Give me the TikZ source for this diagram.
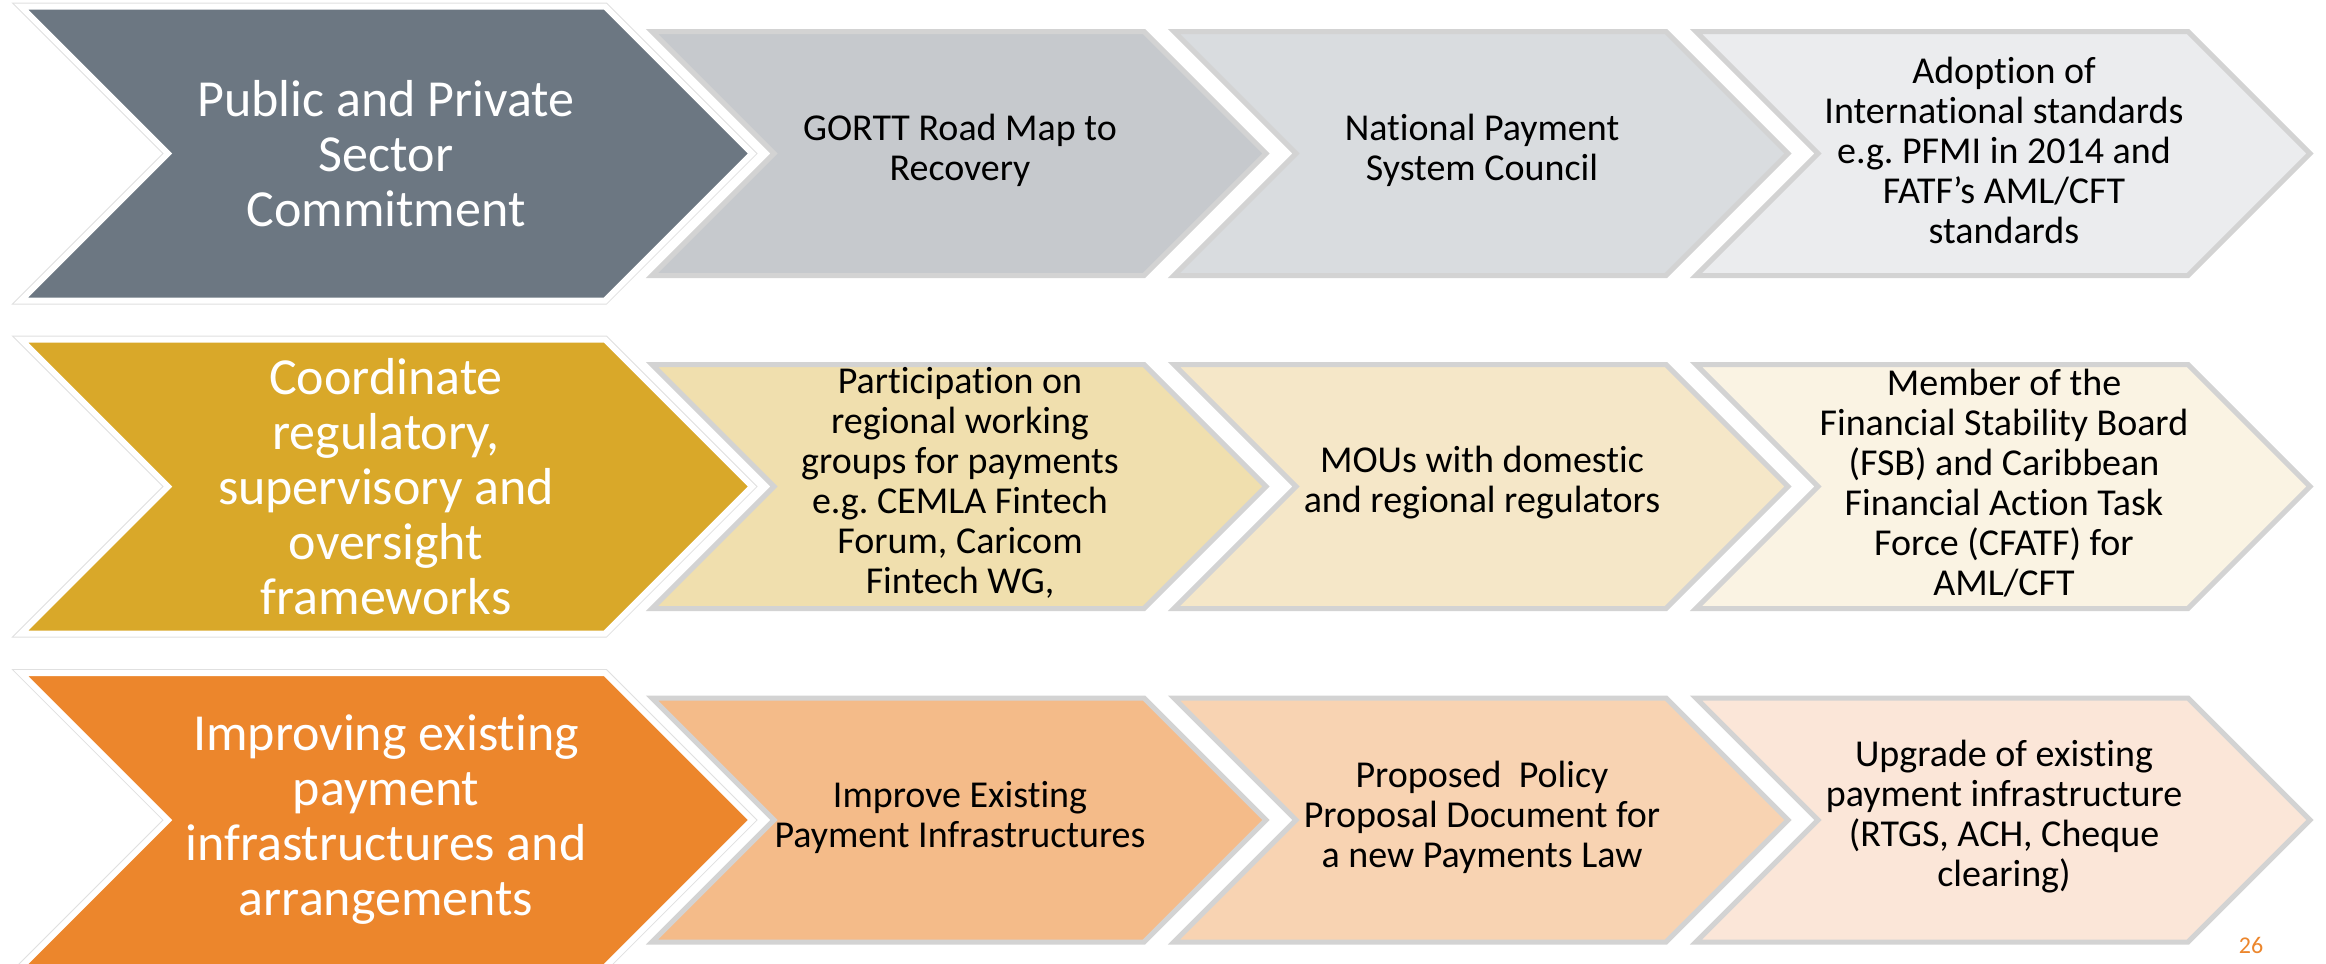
\documentclass[tikz,border=0pt]{standalone}
\usepackage{fontspec}
\setmainfont{Carlito}[Ligatures={NoCommon}]
\frenchspacing
\definecolor{slate}{HTML}{6C7782}
\definecolor{gA}{HTML}{C6C9CD}
\definecolor{gB}{HTML}{D9DCDF}
\definecolor{gC}{HTML}{EBECEE}
\definecolor{gold}{HTML}{D9A829}
\definecolor{yA}{HTML}{F0DFAE}
\definecolor{yB}{HTML}{F5E7C8}
\definecolor{yC}{HTML}{FAF3E3}
\definecolor{orng}{HTML}{EC862C}
\definecolor{oA}{HTML}{F4BB89}
\definecolor{oB}{HTML}{F8D3B2}
\definecolor{oC}{HTML}{FBE6D8}
\definecolor{rim}{HTML}{D3D3D3}
\newcommand{\chevpath}[5]{% #1 style, #2 left x, #3 centre y, #4 half height, #5 flat length
  \path[#1] (#2,#3-#4) -- ++(#5,0) -- ++(#4,#4) -- ++(-#4,#4) -- ++(-#5,0) -- ++(#4,-#4) -- cycle;}
\tikzset{
  bigchev/.style={fill=#1, draw=white, line width=3pt, preaction={draw=rim!70, line width=4pt}},
  smallchev/.style={fill=#1, draw=rim, line width=2.5pt},
  bigtext/.style={text=white, align=center, font=\fontsize{26}{27.5}\selectfont, inner sep=0pt},
  smalltext/.style={text=black, align=center, font=\fontsize{19}{20}\selectfont, inner sep=0pt},
}
\begin{document}
\begin{tikzpicture}[x=0.5pt,y=-0.5pt]
\useasboundingbox (0,0) rectangle (2326,964);
\fill[white] (0,0) rectangle (2326,964);

% Row 1
\chevpath{bigchev=slate}{21}{153.5}{147}{584}
\chevpath{smallchev=gA}{652}{153.5}{122}{492}
\chevpath{smallchev=gB}{1174}{153.5}{122}{492}
\chevpath{smallchev=gC}{1696}{153.5}{122}{492}
\node[bigtext] (r1big) at (386,153.5) {Public and Private\\Sector\\Commitment};
\node[smalltext] (r1a) at (960,150) {GORTT Road Map to\\Recovery};
\node[smalltext] (r1b) at (1482,150) {National Payment\\System Council};
\node[smalltext] (r1c) at (2004,150) {Adoption of\\International standards\\e.g. PFMI in 2014 and\\FATF’s AML/CFT\\standards};

% Row 2
\chevpath{bigchev=gold}{21}{486.5}{147}{584}
\chevpath{smallchev=yA}{652}{486.5}{122}{492}
\chevpath{smallchev=yB}{1174}{486.5}{122}{492}
\chevpath{smallchev=yC}{1696}{486.5}{122}{492}
\node[bigtext] (r2big) at (386,486.5) {Coordinate\\regulatory,\\supervisory and\\oversight\\frameworks};
\node[smalltext] (r2a) at (960,483) {Participation on\\regional working\\groups for payments\\e.g. CEMLA Fintech\\Forum, Caricom\\Fintech WG,};
\node[smalltext] (r2b) at (1482,483) {MOUs with domestic\\and regional regulators};
\node[smalltext] (r2c) at (2004,483) {Member of the\\Financial Stability Board\\(FSB) and Caribbean\\Financial Action Task\\Force (CFATF) for\\AML/CFT};

% Row 3
\chevpath{bigchev=orng}{21}{820}{147}{584}
\chevpath{smallchev=oA}{652}{820}{122}{492}
\chevpath{smallchev=oB}{1174}{820}{122}{492}
\chevpath{smallchev=oC}{1696}{820}{122}{492}
\node[bigtext] (r3big) at (386,820) {Improving existing\\payment\\infrastructures and\\arrangements};
\node[smalltext] (r3a) at (960,817) {Improve Existing\\Payment Infrastructures};
\node[smalltext] (r3b) at (1482,817) {Proposed\ \ Policy\\Proposal Document for\\a new Payments Law};
\node[smalltext] (r3c) at (2004,817) {Upgrade of existing\\payment infrastructure\\(RTGS, ACH, Cheque\\clearing)};

\node[text=orng, font=\fontsize{12}{14}\selectfont, inner sep=0pt] (pagenum) at (2251,945) {26};
\end{tikzpicture}
\end{document}
